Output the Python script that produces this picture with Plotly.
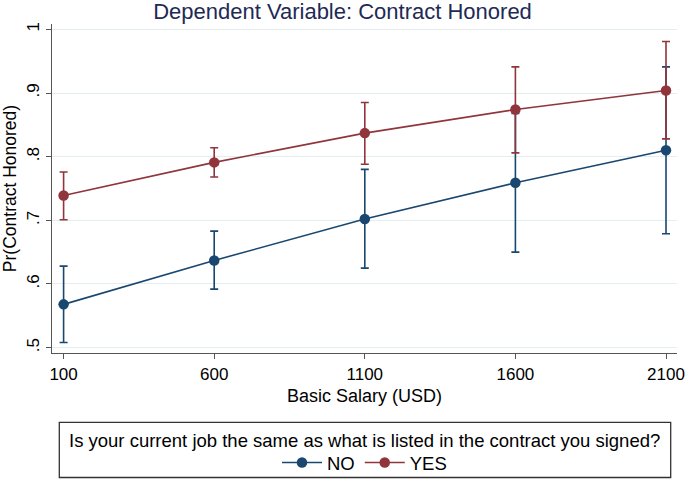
import plotly.graph_objects as go

salary = [100, 600, 1100, 1600, 2100]
no_mean = [0.568, 0.637, 0.702, 0.759, 0.810]
no_lo = [0.508, 0.592, 0.625, 0.650, 0.679]
no_hi = [0.628, 0.683, 0.780, 0.868, 0.941]
yes_mean = [0.739, 0.791, 0.837, 0.874, 0.904]
yes_lo = [0.701, 0.768, 0.788, 0.806, 0.828]
yes_hi = [0.776, 0.814, 0.885, 0.941, 0.981]
y_ticks = [0.5, 0.6, 0.7, 0.8, 0.9, 1.0]
y_ticklabels = [".5", ".6", ".7", ".8", ".9", "1"]

NAVY = "#1a476f"
MAROON = "#90353b"
FONT = "Liberation Sans"

L, R, T, B = 52, 8, 24, 127
PW, PH = 685 - L - R, 480 - T - B


def px(x):
    return (x - L) / PW


def py(y):
    return (480 - B - y) / PH


fig = go.Figure()
for name, m, lo, hi, col in [("NO", no_mean, no_lo, no_hi, NAVY),
                             ("YES", yes_mean, yes_lo, yes_hi, MAROON)]:
    fig.add_trace(go.Scatter(
        x=salary, y=m, name=name, mode="lines+markers",
        line=dict(color=col, width=1.6),
        marker=dict(color=col, size=10.5),
        error_y=dict(type="data", symmetric=False,
                     array=[h - v for h, v in zip(hi, m)],
                     arrayminus=[v - l for v, l in zip(m, lo)],
                     color=col, thickness=1.6, width=4),
    ))

fig.update_layout(
    width=685, height=480,
    paper_bgcolor="white", plot_bgcolor="white",
    margin=dict(l=L, r=R, t=T, b=B, autoexpand=False),
    font=dict(family=FONT, size=17, color="#000000"),
    title=dict(text="Dependent Variable: Contract Honored", x=0.5, xanchor="center",
               y=1 - 11 / 480, yanchor="middle",
               font=dict(family=FONT, size=22, color="#1e2a55")),
    xaxis=dict(range=[61.5, 2136.5], tickvals=salary, ticktext=[str(s) for s in salary],
               showgrid=False, zeroline=False, showline=True, linecolor="#555555",
               linewidth=1.3, ticks="outside", ticklen=5, tickcolor="#555555",
               tickfont=dict(size=17), automargin=False, ticklabeloverflow="allow",
               title=dict(text="Basic Salary (USD)", font=dict(size=18), standoff=6)),
    yaxis=dict(range=[0.4916, 1.0084], tickvals=y_ticks, ticktext=y_ticklabels,
               tickangle=-90, showgrid=True, gridcolor="#e4eef1", gridwidth=1.2,
               zeroline=False, showline=True, linecolor="#555555", linewidth=1.3,
               ticks="outside", ticklen=5, tickcolor="#555555",
               tickfont=dict(size=17), automargin=False,
               title=dict(text="Pr(Contract Honored)", font=dict(size=17.5), standoff=4)),
    legend=dict(orientation="h", x=px(364.5), xanchor="center", y=py(463), yanchor="middle",
                bgcolor="rgba(0,0,0,0)", font=dict(size=18.5), itemwidth=40),
    annotations=[dict(text="Is your current job the same as what is listed in the contract you signed?",
                      xref="paper", yref="paper", x=px(364.5), y=py(440),
                      xanchor="center", yanchor="middle", showarrow=False,
                      font=dict(size=18.5, color="#000000"))],
    shapes=[dict(type="rect", xref="paper", yref="paper",
                 x0=px(59.3), x1=px(670.7), y0=py(477.5), y1=py(422.3),
                 line=dict(color="#333333", width=1.3), fillcolor="rgba(0,0,0,0)")],
)

fig.write_html("out.html", config={"displayModeBar": False},
               post_script="document.body.style.margin='0';document.body.style.overflow='hidden';")
